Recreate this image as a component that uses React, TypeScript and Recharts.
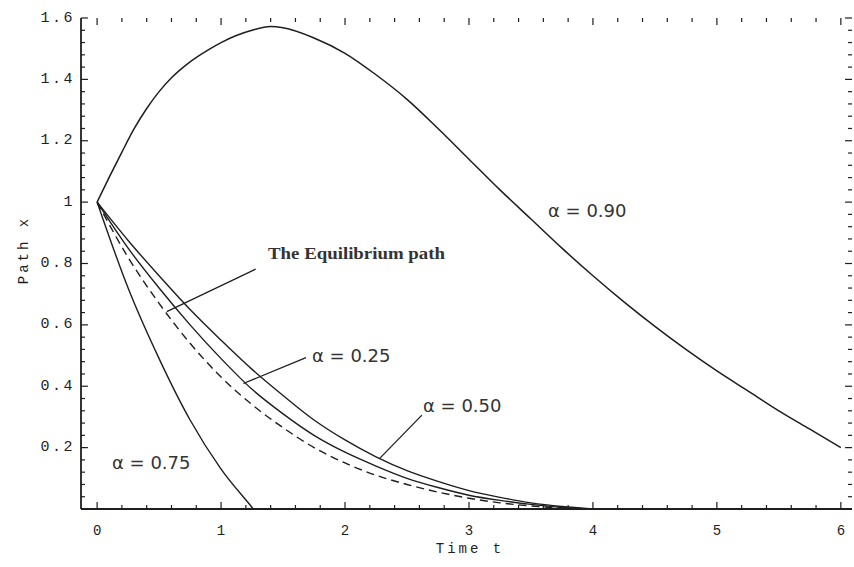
import { LineChart, Line, XAxis, YAxis, ReferenceLine } from "recharts"

// time grid shared by the three lower paths
const timeGrid = [0, 0.25, 0.5, 0.75, 1, 1.25, 1.5, 1.75, 2, 2.25, 2.5, 2.75, 3, 3.25, 3.5, 3.75, 4]
const pathA50 = [1, 0.875, 0.76, 0.65, 0.55, 0.455, 0.37, 0.29, 0.225, 0.17, 0.125, 0.09, 0.06, 0.038, 0.02, 0.008, 0]
const pathA25 = [1, 0.85, 0.72, 0.6, 0.49, 0.39, 0.31, 0.24, 0.185, 0.14, 0.1, 0.07, 0.045, 0.028, 0.015, 0.005, 0]
const pathEq = [1, 0.82, 0.67, 0.54, 0.43, 0.34, 0.265, 0.2, 0.15, 0.11, 0.08, 0.055, 0.035, 0.02, 0.01, 0.003, 0]

const timeA90 = [0, 0.1, 0.2, 0.3, 0.4, 0.5, 0.6, 0.75, 0.9, 1, 1.25, 1.4, 1.5, 1.75, 2, 2.25, 2.5, 2.75, 3, 3.25, 3.5, 3.75, 4, 4.25, 4.5, 4.75, 5, 5.25, 5.5, 5.75, 6]
const pathA90 = [1, 1.083, 1.163, 1.24, 1.305, 1.36, 1.405, 1.457, 1.497, 1.52, 1.56, 1.572, 1.568, 1.535, 1.485, 1.415, 1.335, 1.24, 1.14, 1.04, 0.945, 0.85, 0.76, 0.675, 0.595, 0.52, 0.45, 0.385, 0.32, 0.26, 0.2]

const timeA75 = [0, 0.25, 0.5, 0.75, 1, 1.25, 1.26]
const pathA75 = [1, 0.72, 0.49, 0.29, 0.13, 0.005, 0]

const xTickLabels = [0, 1, 2, 3, 4, 5, 6]
const yTickLabels = [0.2, 0.4, 0.6, 0.8, 1, 1.2, 1.4, 1.6]
const xMinor = Array.from({ length: 30 }, (_, i) => +(i * 0.2).toFixed(2)).filter((v) => !xTickLabels.includes(v))
const yMinor = Array.from({ length: 40 }, (_, i) => +(0.04 + i * 0.04).toFixed(2)).filter((v) => v < 1.6 && !yTickLabels.includes(v))

const X_MIN = -0.13
const X_MAX = 6.09
const Y_MIN = 0
const Y_MAX = 1.6
// tick lengths in data units (about 7px / 4px)
const xTickMajor = 0.023
const xTickMinor = 0.013
const yTickMajor = 0.056
const yTickMinor = 0.032

const toPoints = (ts: number[], vs: number[]) => ts.map((t, i) => ({ t, v: vs[i] }))

const ink = "#1e1e1e"
const mono = "'Liberation Mono', 'DejaVu Sans Mono', monospace"

const BottomLabel = (p: any) =>
  xTickLabels.includes(p.payload.value) ? (
    <text x={p.x + 1.5} y={p.y + 22} textAnchor="middle" dominantBaseline="central" fontFamily={mono} fontSize={14} letterSpacing={3} fill={ink}>
      {p.payload.value}
    </text>
  ) : (
    <g />
  )

const LeftLabel = (p: any) => {
  const v = p.payload.value
  return (
    <text x={p.x - 6} y={p.y} textAnchor="end" dominantBaseline="central" fontFamily={mono} fontSize={15} letterSpacing={2.5} fill={ink}>
      {v === 1 ? "1" : v.toFixed(1)}
    </text>
  )
}

const alphaStyle = { fontFamily: "'DejaVu Sans', sans-serif", fontSize: 18, fill: "#333" }

const tickLine = (key: string, seg: { x: number; y: number }[]) => (
  <ReferenceLine key={key} xAxisId="b" yAxisId="l" segment={seg} stroke={ink} strokeWidth={1.2} />
)

export default function App() {
  const frameTicks = [
    ...xTickLabels.flatMap((v) => [
      tickLine(`xb${v}`, [{ x: v, y: Y_MIN }, { x: v, y: Y_MIN + xTickMajor }]),
      tickLine(`xt${v}`, [{ x: v, y: Y_MAX }, { x: v, y: Y_MAX - xTickMajor }]),
    ]),
    ...xMinor.flatMap((v) => [
      tickLine(`xbm${v}`, [{ x: v, y: Y_MIN }, { x: v, y: Y_MIN + xTickMinor }]),
      tickLine(`xtm${v}`, [{ x: v, y: Y_MAX }, { x: v, y: Y_MAX - xTickMinor }]),
    ]),
    ...yTickLabels.flatMap((v) => [
      tickLine(`yl${v}`, [{ x: X_MIN, y: v }, { x: X_MIN + yTickMajor, y: v }]),
      tickLine(`yr${v}`, [{ x: X_MAX, y: v }, { x: X_MAX - yTickMajor, y: v }]),
    ]),
    ...yMinor.flatMap((v) => [
      tickLine(`ylm${v}`, [{ x: X_MIN, y: v }, { x: X_MIN + yTickMinor, y: v }]),
      tickLine(`yrm${v}`, [{ x: X_MAX, y: v }, { x: X_MAX - yTickMinor, y: v }]),
    ]),
  ]

  return (
    <div style={{ position: "absolute", left: 0, top: 0, width: 854, height: 567, background: "#fff" }}>
      <LineChart width={854} height={567} margin={{ top: 18, right: 2, bottom: 0, left: 0 }}>
        <XAxis xAxisId="b" type="number" dataKey="t" domain={[X_MIN, X_MAX]} ticks={xTickLabels} interval={0}
          orientation="bottom" height={58} tickSize={0} tickMargin={0} tickLine={false} tick={BottomLabel}
          axisLine={{ stroke: ink, strokeWidth: 1.8 }} allowDataOverflow />
        <XAxis xAxisId="t" type="number" dataKey="t" domain={[X_MIN, X_MAX]} orientation="top" height={0}
          tick={false} tickLine={false} axisLine={{ stroke: ink, strokeWidth: 1.8 }} allowDataOverflow />
        <YAxis yAxisId="l" type="number" domain={[Y_MIN, Y_MAX]} ticks={yTickLabels} interval={0}
          orientation="left" width={81} tickSize={0} tickMargin={0} tickLine={false} tick={LeftLabel}
          axisLine={{ stroke: ink, strokeWidth: 1.8 }} allowDataOverflow />
        <YAxis yAxisId="r" type="number" domain={[Y_MIN, Y_MAX]} orientation="right" width={0}
          tick={false} tickLine={false} axisLine={{ stroke: ink, strokeWidth: 1.8 }} allowDataOverflow />

        {frameTicks}

        <Line xAxisId="b" yAxisId="l" data={toPoints(timeA90, pathA90)} dataKey="v" type="monotone"
          stroke={ink} strokeWidth={1.5} dot={false} isAnimationActive={false} />
        <Line xAxisId="b" yAxisId="l" data={toPoints(timeGrid, pathA50)} dataKey="v" type="monotone"
          stroke={ink} strokeWidth={1.4} dot={false} isAnimationActive={false} />
        <Line xAxisId="b" yAxisId="l" data={toPoints(timeGrid, pathA25)} dataKey="v" type="monotone"
          stroke={ink} strokeWidth={1.4} dot={false} isAnimationActive={false} />
        <Line xAxisId="b" yAxisId="l" data={toPoints(timeGrid, pathEq)} dataKey="v" type="monotone"
          stroke={ink} strokeWidth={1.4} strokeDasharray="8 5" dot={false} isAnimationActive={false} />
        <Line xAxisId="b" yAxisId="l" data={toPoints(timeA75, pathA75)} dataKey="v" type="monotone"
          stroke={ink} strokeWidth={1.4} dot={false} isAnimationActive={false} />

        {/* leader lines from the labels to their curves */}
        <ReferenceLine xAxisId="b" yAxisId="l" segment={[{ x: 1.28, y: 0.782 }, { x: 0.562, y: 0.643 }]} stroke={ink} strokeWidth={1.3} />
        <ReferenceLine xAxisId="b" yAxisId="l" segment={[{ x: 1.685, y: 0.493 }, { x: 1.18, y: 0.409 }]} stroke={ink} strokeWidth={1.3} />
        <ReferenceLine xAxisId="b" yAxisId="l" segment={[{ x: 2.62, y: 0.306 }, { x: 2.28, y: 0.165 }]} stroke={ink} strokeWidth={1.3} />
      </LineChart>

      <svg width={854} height={567} style={{ position: "absolute", left: 0, top: 0, pointerEvents: "none" }}>
        <text x={268} y={253} dominantBaseline="central" fontFamily="'Liberation Serif', serif" fontWeight="bold"
          fontSize={17} textLength={177} lengthAdjust="spacingAndGlyphs" fill="#333">
          The Equilibrium path
        </text>
        <text x={548} y={210} dominantBaseline="central" {...alphaStyle}>α = 0.90</text>
        <text x={312} y={355} dominantBaseline="central" {...alphaStyle}>α = 0.25</text>
        <text x={423} y={405} dominantBaseline="central" {...alphaStyle}>α = 0.50</text>
        <text x={112} y={462} dominantBaseline="central" {...alphaStyle}>α = 0.75</text>
        <text x={470} y={549} textAnchor="middle" dominantBaseline="central" fontFamily={mono} fontSize={14} letterSpacing={3} fill={ink}>
          Time t
        </text>
        <text x={24} y={250} textAnchor="middle" dominantBaseline="central" fontFamily={mono} fontSize={14} letterSpacing={3}
          fill={ink} transform="rotate(-90 24 250)">
          Path x
        </text>
      </svg>
    </div>
  )
}
